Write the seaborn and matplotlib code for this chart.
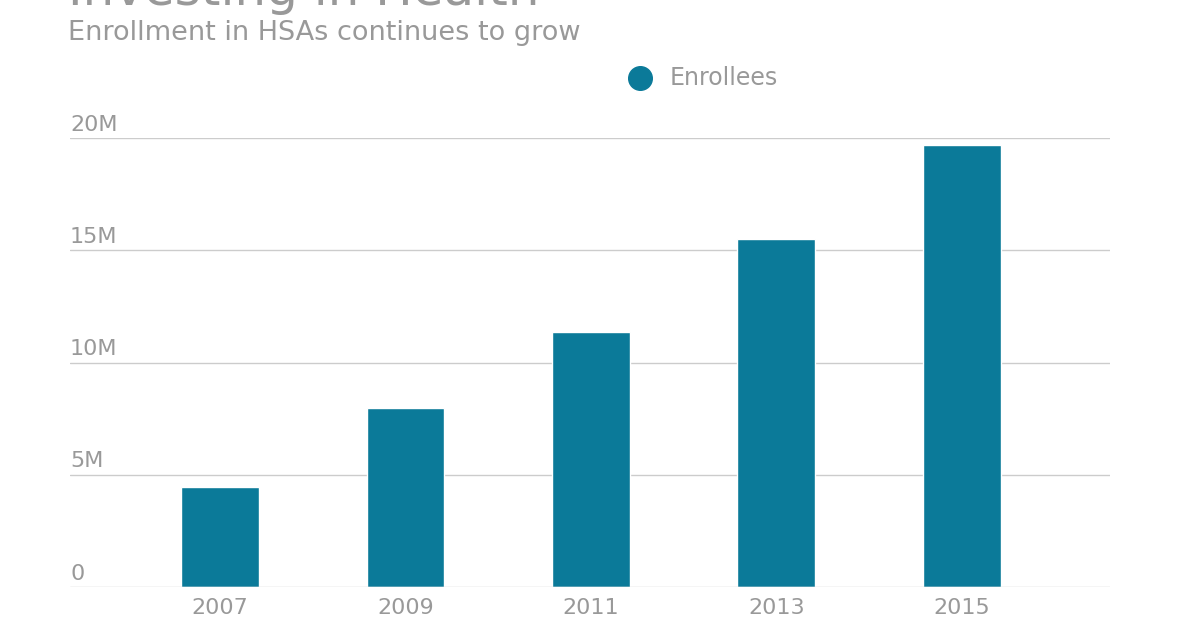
import matplotlib
matplotlib.use("Agg")
import matplotlib.pyplot as plt
import seaborn as sns
import pandas as pd

years = ["2007", "2009", "2011", "2013", "2015"]
enrollees = [4.45, 7.97, 11.36, 15.5, 19.7]  # millions
yticks = [0, 5, 10, 15, 20]
ytick_labels = ["0", "5M", "10M", "15M", "20M"]

sns.set_theme(style="white")
plt.rcParams['font.family'] = ['DejaVu Sans']
color = "#0b7a99"
grey = "#999999"

fig = plt.figure(figsize=(12, 6.3), dpi=100)
ax = fig.add_axes([70/1200, 1-587/630, 1040/1200, (587-138)/630])
df = pd.DataFrame({"year": years, "val": enrollees})
sns.barplot(data=df, x="year", y="val", color=color, width=0.42, ax=ax, saturation=1)
ax.set_xlim(-0.81, 4.8)
ax.set_ylim(0, 20)
ax.set_yticks(yticks)
ax.set_yticklabels([])
for v, lab in zip(yticks, ytick_labels):
    ax.axhline(v, color="#cccccc", lw=1, zorder=0 if v else 5)
    ax.text(0, v + 0.15, lab, transform=ax.get_yaxis_transform(), ha="left", va="bottom",
            fontsize=16, color=grey)
ax.tick_params(axis="x", labelsize=16, labelcolor=grey, length=0, pad=8)
ax.tick_params(axis="y", length=0)
ax.set_xlabel(""); ax.set_ylabel("")
for s in ax.spines.values():
    s.set_visible(False)
ax.set_axisbelow(True)

fig.text(68/1200, 1-5/630, "Investing in Health", fontsize=36, color=grey, va="baseline")
fig.text(68/1200, 1-40/630, "Enrollment in HSAs continues to grow", fontsize=19.5, color=grey, va="baseline")
fig.lines.append(matplotlib.lines.Line2D([640/1200], [1-78/630], marker="o", markersize=17,
                                         color=color, transform=fig.transFigure, figure=fig))
fig.text(670/1200, 1-78/630, "Enrollees", fontsize=17, color=grey, va="center")
fig.savefig("out.png", dpi=100)
